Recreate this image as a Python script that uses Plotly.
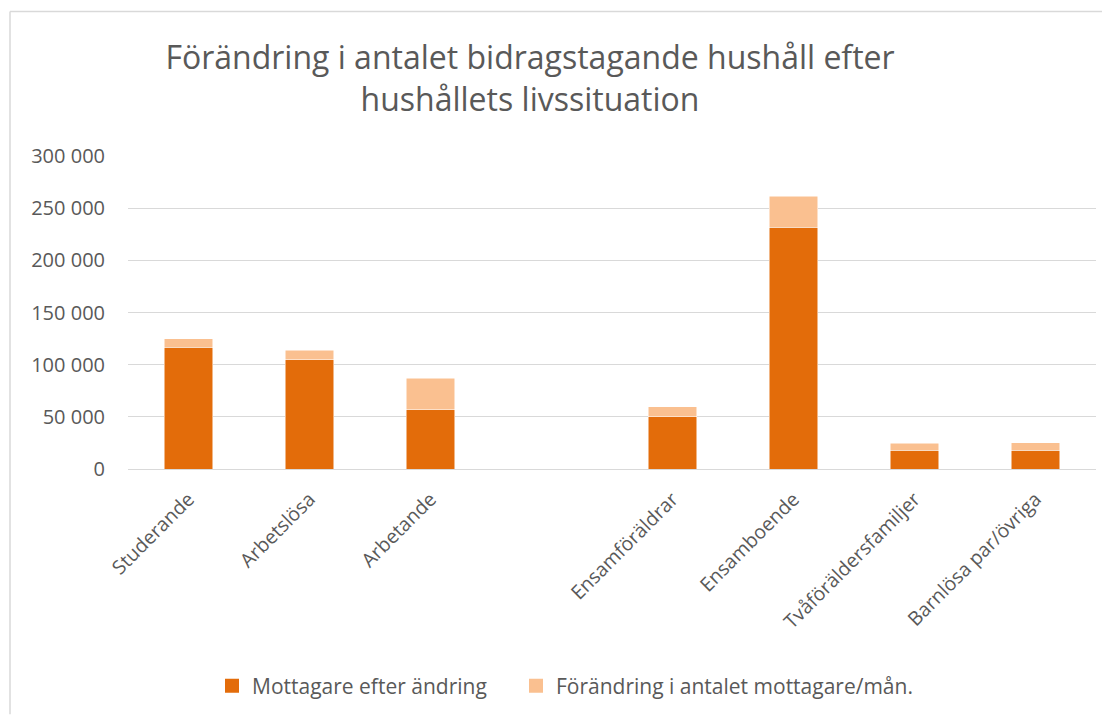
import plotly.graph_objects as go

categories = ["Studerande", "Arbetslösa", "Arbetande", " ", "Ensamföräldrar",
              "Ensamboende", "Tvåföräldersfamiljer", "Barnlösa par/övriga"]
after_change = [116500, 104500, 57000, None, 50000, 231500, 18200, 18000]
change = [8500, 9500, 30000, None, 9500, 30000, 6400, 7400]
series_names = ["Mottagare efter ändring", "Förändring i antalet mottagare/mån."]
y_ticks = [0, 50000, 100000, 150000, 200000, 250000, 300000]

DARK = "#E36C0A"
LIGHT = "#FAC090"
TXT = "#595959"
GRID = "#D9D9D9"

# page renders the figure offset by 8px (body margin); compensate
OFF = 8
W, H = 1110 - OFF, 716 - OFF
L = 128 - OFF
T = 156 - OFF
R = W - (1096 - OFF)
B = H - (470 - OFF)
pw = W - L - R
ph = H - T - B

def px_x(px):
    return (px - OFF - L) / pw

def px_y(py):
    return (H - B - (py - OFF)) / ph

fig = go.Figure()
for vals, name, col in [(after_change, series_names[0], DARK),
                        (change, series_names[1], LIGHT)]:
    fig.add_trace(go.Bar(x=categories, y=vals, name=name, legendgroup=name,
                         showlegend=False,
                         marker=dict(color=col, line=dict(color="white", width=0.5))))
for name, col, lg in [(series_names[0], DARK, "legend"), (series_names[1], LIGHT, "legend2")]:
    fig.add_trace(go.Scatter(x=[None], y=[None], mode="markers", name=name,
                             legendgroup=name, legend=lg,
                             marker=dict(symbol="square", size=14, color=col)))

legend_common = dict(
    orientation="h",
    xanchor="left",
    y=px_y(686), yanchor="middle",
    font=dict(size=21, color=TXT),
    itemwidth=30,
    bgcolor="rgba(0,0,0,0)",
)

fig.update_layout(
    width=W, height=H,
    barmode="stack",
    bargap=0.6,
    separators=", ",
    plot_bgcolor="white",
    paper_bgcolor="white",
    font=dict(family="Open Sans", color=TXT, size=20),
    margin=dict(l=L, r=R, t=T, b=B),
    title=dict(
        text="Förändring i antalet bidragstagande hushåll efter<br>hushållets livssituation",
        x=(530 - OFF) / W, xanchor="center",
        y=1 - (69 - OFF) / H, yanchor="middle",
        font=dict(family="Open Sans", size=32, color=TXT),
    ),
    xaxis=dict(
        type="category",
        categoryorder="array", categoryarray=categories,
        tickangle=-45,
        showgrid=False,
        showline=False,
        ticks="",
        ticklabelstandoff=14,
        tickfont=dict(size=19.5, color=TXT),
    ),
    yaxis=dict(
        range=[0, 300000],
        tickvals=y_ticks,
        tickformat=",d",
        showgrid=True, gridcolor=GRID, gridwidth=1,
        zeroline=True, zerolinecolor=GRID, zerolinewidth=1,
        showline=False,
        ticks="",
        ticklabelstandoff=22,
        tickfont=dict(size=20, color=TXT),
    ),
    legend=dict(x=px_x(212), **legend_common),
    legend2=dict(x=px_x(516), **legend_common),
    showlegend=True,
    shapes=[
        dict(type="line", xref="paper", yref="paper",
             x0=px_x(10), x1=px_x(1110), y0=px_y(11), y1=px_y(11),
             line=dict(color=GRID, width=1.5)),
        dict(type="line", xref="paper", yref="paper",
             x0=px_x(10), x1=px_x(10), y0=px_y(11), y1=px_y(716),
             line=dict(color=GRID, width=1.5)),
    ],
)

fig.write_html("out.html")
